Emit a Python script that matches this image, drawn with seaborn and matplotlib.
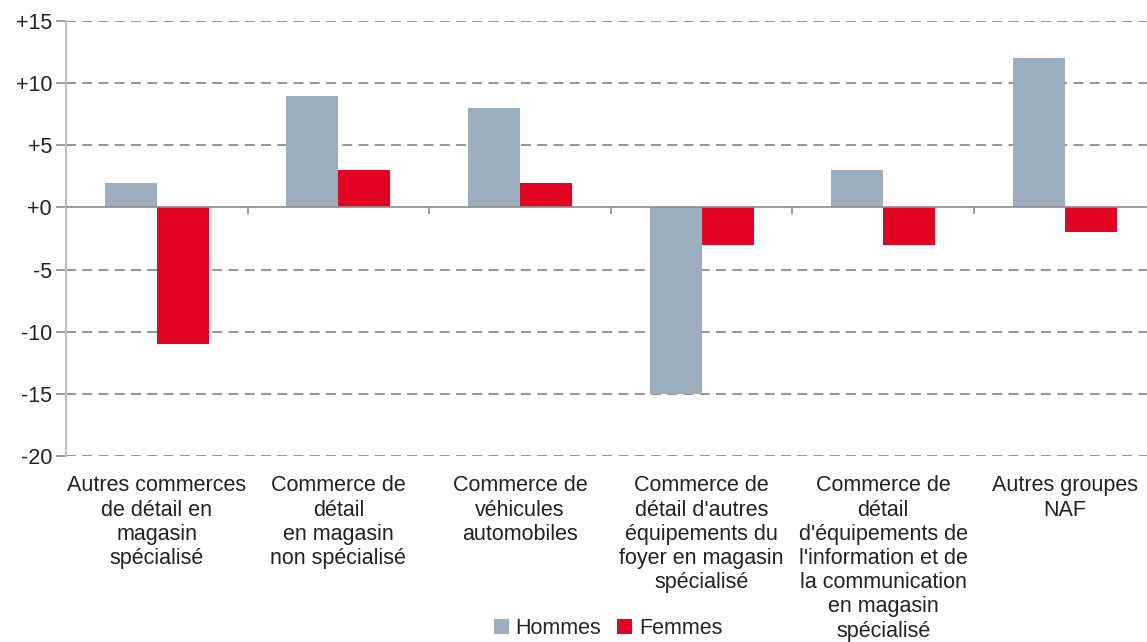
import numpy as np
import pandas as pd
import seaborn as sns
import matplotlib.pyplot as plt

# data
categories = [
    "Autres commerces\nde détail en\nmagasin\nspécialisé",
    "Commerce de\ndétail\nen magasin\nnon spécialisé",
    "Commerce de\nvéhicules\nautomobiles",
    "Commerce de\ndétail d'autres\néquipements du\nfoyer en magasin\nspécialisé",
    "Commerce de\ndétail\nd'équipements de\nl'information et de\nla communication\nen magasin\nspécialisé",
    "Autres groupes\nNAF",
]
hommes = [2, 9, 8, -15, 3, 12]
femmes = [-11, 3, 2, -3, -3, -2]
series = ["Hommes", "Femmes"]
yticks = [15, 10, 5, 0, -5, -10, -15, -20]
ytick_labels = ["+15", "+10", "+5", "+0", "-5", "-10", "-15", "-20"]

df = pd.DataFrame({
    "cat": categories * 2,
    "val": hommes + femmes,
    "sexe": [series[0]] * len(categories) + [series[1]] * len(categories),
})

sns.set_style("white")
plt.rcParams["font.family"] = ["Liberation Sans", "DejaVu Sans"]

fig = plt.figure(figsize=(11.47, 6.42), dpi=100)
ax = fig.add_axes([0.0575, 0.2897, 0.950, 0.6776])

# dashed grid behind the bars
for y in yticks:
    if y != 0:
        ax.axhline(y, color="#8c8c8c", lw=1.3, ls=(0, (5.5, 3.5)), zorder=0)

sns.barplot(data=df, x="cat", y="val", hue="sexe", palette=["#9daebe", "#e30421"],
            saturation=1, linewidth=0, width=0.573, gap=0, ax=ax, zorder=2)

ax.axhline(0, color="#8c8c8c", lw=1.2, zorder=3)
# small separators between groups on the zero line
ax.vlines(np.arange(len(categories) - 1) + 0.5, -0.5, 0, color="#8c8c8c", lw=1.2, zorder=3)

ax.set_ylim(-20, 15)
ax.set_xlim(-0.5, len(categories) - 0.5)
ax.set_yticks(yticks)
ax.set_yticklabels(ytick_labels, fontsize=15.5, color="#222222")
ax.tick_params(axis="y", length=7, width=1.2, color="#8c8c8c", pad=3, left=True)
ax.tick_params(axis="x", length=0, pad=14, labelsize=15.5, labelcolor="#222222")
for lab in ax.get_xticklabels():
    lab.set_linespacing(1.2)
    lab.set_verticalalignment("top")
ax.set_xlabel("")
ax.set_ylabel("")

for s in ["top", "right", "bottom"]:
    ax.spines[s].set_visible(False)
ax.spines["left"].set_color("#c0c0c0")
ax.spines["left"].set_linewidth(1.5)

handles, labels = ax.get_legend_handles_labels()
ax.get_legend().remove()
fig.legend(handles, labels, loc="center", bbox_to_anchor=(608 / 1147, 0.021), ncol=2,
           frameon=False, fontsize=15.5, handlelength=0.7, handleheight=0.7,
           handletextpad=0.3, columnspacing=0.75, borderaxespad=0, borderpad=0)

fig.savefig("out.png", dpi=100)
